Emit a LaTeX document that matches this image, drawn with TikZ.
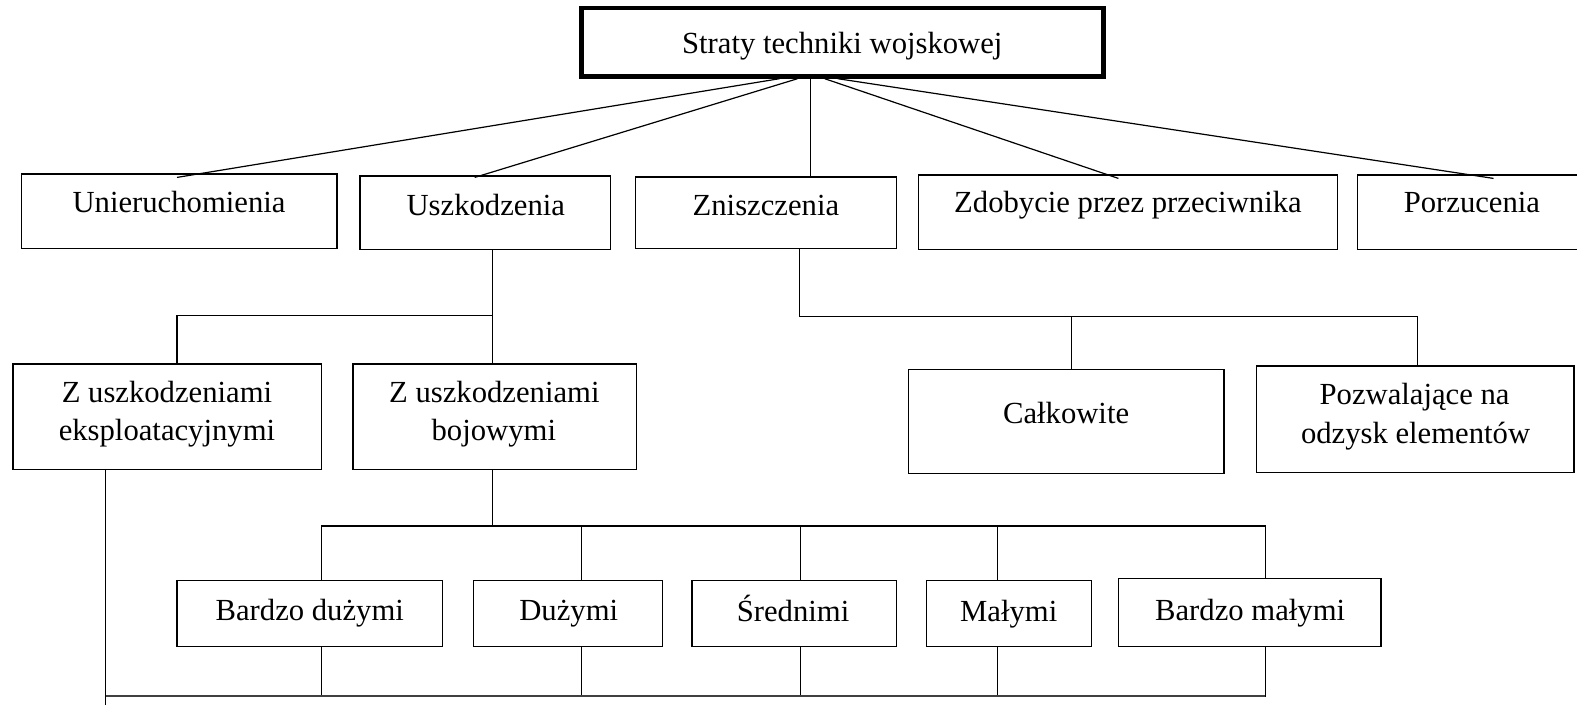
\documentclass[tikz,border=0pt]{standalone}
\usepackage{fontspec}
\setmainfont{Liberation Serif}
\begin{document}
\begin{tikzpicture}[x=1pt,y=-1pt,
  conn/.style={line width=1.2pt, draw=black},
  box/.style={draw=black, line width=1.2pt, rectangle, inner sep=0pt},
  txt/.style={inner sep=0pt, anchor=base, font=\fontsize{30.5}{38}\selectfont}]
\useasboundingbox (0,0) rectangle (1568,700);
% top
\node[box, line width=4.5pt, minimum width=519pt, minimum height=68pt] (top) at (837.5,42) {};
\node[txt] (ttop) at (837.5,53.5) {Straty techniki wojskowej};
% level 2
\node[box, minimum width=314pt, minimum height=74pt] (uni) at (178,210) {};
\node[txt] (tuni) at (178,211.5) {Unieruchomienia};
\node[box, minimum width=249pt, minimum height=73pt] (usz) at (482.5,211.5) {};
\node[txt] (tusz) at (483,214) {Uszkodzenia};
\node[box, minimum width=259pt, minimum height=71pt] (zni) at (761.5,211.5) {};
\node[txt] (tzni) at (761.5,214) {Zniszczenia};
\node[box, minimum width=417pt, minimum height=74pt] (zdo) at (1121.5,211) {};
\node[txt] (tzdo) at (1121.5,211.5) {Zdobycie przez przeciwnika};
\node[box, minimum width=240pt, minimum height=74pt] (por) at (1470,211) {};
\node[txt] (tpor) at (1463.5,211.5) {Porzucenia};
% level 3
\node[box, minimum width=307pt, minimum height=105pt] (eks) at (166.5,414.5) {};
\node[txt] (teksa) at (166,400.5) {Z uszkodzeniami};
\node[txt] (teksb) at (166,438) {eksploatacyjnymi};
\node[box, minimum width=282pt, minimum height=105pt] (boj) at (492,414.5) {};
\node[txt] (tboja) at (491.5,400.5) {Z uszkodzeniami};
\node[txt] (tbojb) at (491,438) {bojowymi};
\node[box, minimum width=314pt, minimum height=104pt] (cal) at (1060,419) {};
\node[txt] (tcal) at (1060,421) {Całkowite};
\node[box, minimum width=316pt, minimum height=106pt] (poz) at (1407,417) {};
\node[txt] (tpoza) at (1406.5,402.5) {Pozwalające na};
\node[txt] (tpozb) at (1407.5,440.5) {odzysk elementów};
% level 4
\node[box, minimum width=264pt, minimum height=66pt] (bd) at (308,610) {};
\node[txt] (tbd) at (308,617) {Bardzo dużymi};
\node[box, minimum width=188pt, minimum height=66pt] (du) at (565,610) {};
\node[txt] (tdu) at (565.5,617) {Dużymi};
\node[box, minimum width=203pt, minimum height=66pt] (sr) at (789.5,610) {};
\node[txt] (tsr) at (788.5,617.5) {Średnimi};
\node[box, minimum width=164pt, minimum height=66pt] (ma) at (1003,610) {};
\node[txt] (tma) at (1003,617.5) {Małymi};
\node[box, minimum width=261pt, minimum height=68pt] (bm) at (1242.5,609) {};
\node[txt] (tbm) at (1243,617) {Bardzo małymi};
% junction coordinates
\coordinate (j1) at (490,314);
\coordinate (j2) at (795,315);
\coordinate (j3) at (1409,315);
\coordinate (j4) at (1065,315);
\coordinate (h1) at (320,523);
\coordinate (h2) at (1258,523);
\coordinate (h0) at (490,523);
\coordinate (g1) at (105,692);
\coordinate (g2) at (1258,692);
\coordinate (g0) at (105,702);
% top fan
\draw[conn] ([xshift=-62.5pt]top.south) -- ([xshift=-2pt,yshift=-4pt]uni.north);
\draw[conn] ([xshift=-44.5pt]top.south) -- ([xshift=-10.5pt,yshift=-2pt]usz.north);
\draw[conn] ([xshift=-31.5pt]top.south) -- ([xshift=44.5pt]zni.north);
\draw[conn] ([xshift=-17.5pt]top.south) -- ([xshift=-9.5pt,yshift=-4pt]zdo.north);
\draw[conn] ([xshift=-4.5pt]top.south) -- ([xshift=15pt,yshift=-4pt]por.north);
% Uszkodzenia branch
\draw[conn] ([xshift=7.5pt]usz.south) -- ([xshift=-2pt]boj.north);
\draw[conn] ([xshift=9.5pt]eks.north) |- (j1);
% Zniszczenia branch
\draw[conn] ([xshift=33.5pt]zni.south) -- (j2) -- (j3) -- ([xshift=2pt]poz.north);
\draw[conn] (j4) -- ([xshift=5pt]cal.north);
% bojowymi branch
\draw[conn] ([xshift=-2pt]boj.south) -- (h0);
\draw[conn] (h1) -- (h2);
\draw[conn] ([xshift=12pt]bd.north) -- ++(0,54pt);
\draw[conn] ([xshift=13pt]du.north) -- ++(0,54pt);
\draw[conn] ([xshift=6.5pt]sr.north) -- ++(0,54pt);
\draw[conn] ([xshift=-11pt]ma.north) -- ++(0,54pt);
\draw[conn] ([xshift=15.5pt]bm.north) -- ++(0,52pt);
% bottom
\draw[conn] ([xshift=12pt]bd.south) -- ++(0,-49pt);
\draw[conn] ([xshift=13pt]du.south) -- ++(0,-49pt);
\draw[conn] ([xshift=6.5pt]sr.south) -- ++(0,-49pt);
\draw[conn] ([xshift=-11pt]ma.south) -- ++(0,-49pt);
\draw[conn] ([xshift=15.5pt]bm.south) -- ++(0,-49pt);
\draw[conn, line width=1.8pt, draw=black!75] (g1) -- (g2);
\draw[conn] ([xshift=-61.5pt]eks.south) -- (g0);
\end{tikzpicture}
\end{document}
